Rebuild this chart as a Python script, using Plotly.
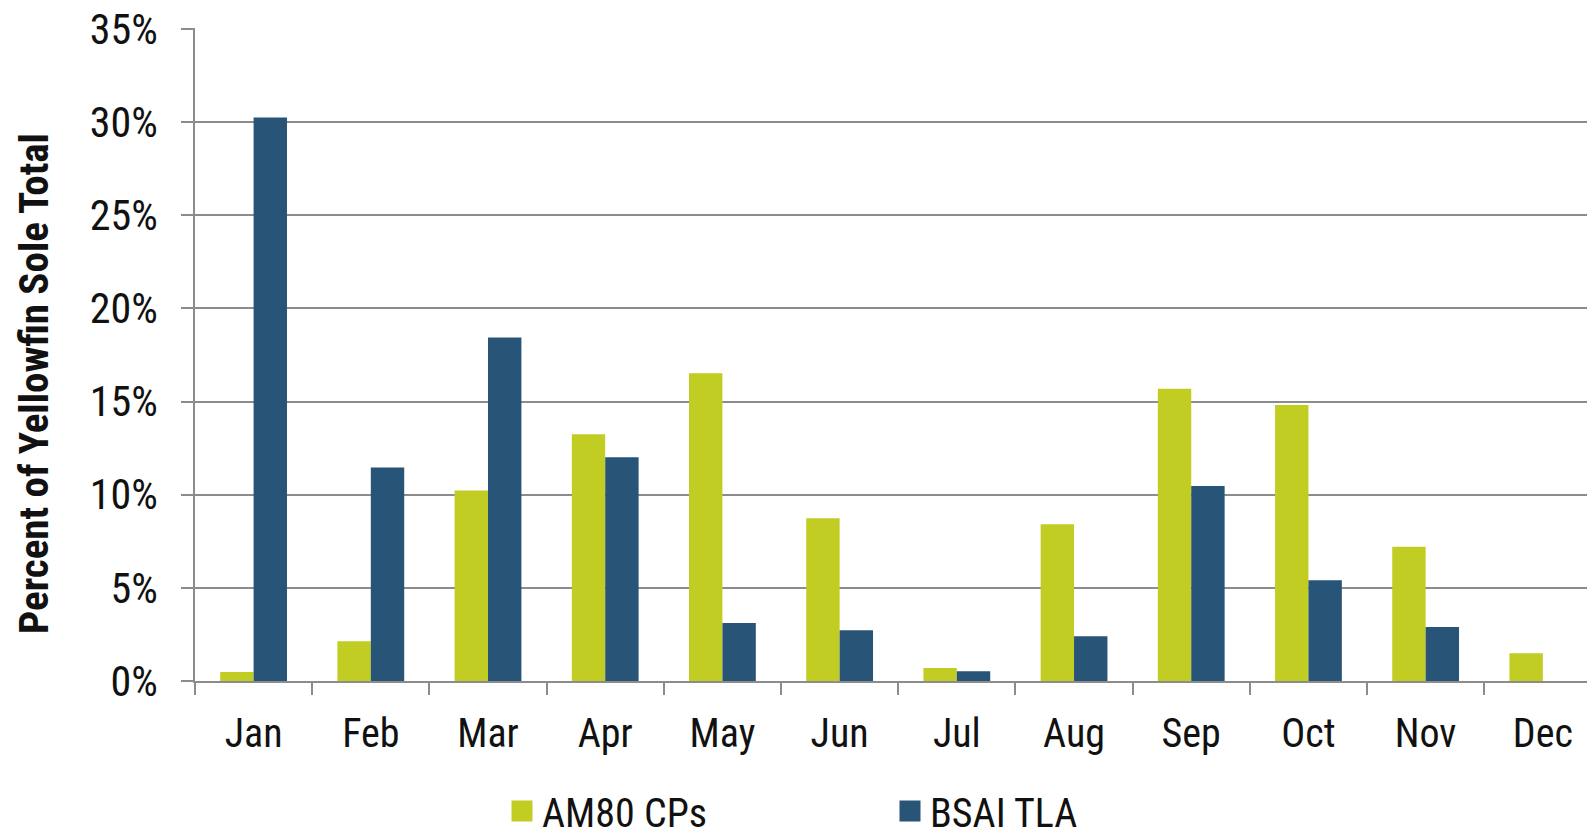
import plotly.graph_objects as go

months = ["Jan", "Feb", "Mar", "Apr", "May", "Jun", "Jul", "Aug", "Sep", "Oct", "Nov", "Dec"]
am80_cps = [0.48, 2.13, 10.22, 13.25, 16.52, 8.74, 0.70, 8.41, 15.68, 14.82, 7.20, 1.49]
bsai_tla = [30.24, 11.46, 18.44, 12.01, 3.11, 2.72, 0.52, 2.40, 10.47, 5.41, 2.90, 0.0]
y_ticks = [0, 5, 10, 15, 20, 25, 30, 35]
y_tick_labels = ["0%", "5%", "10%", "15%", "20%", "25%", "30%", "35%"]
y_title = "Percent of Yellowfin Sole Total"

GREEN = "#C2CD23"
BLUE = "#285577"
GRID = "#8C8C8C"
FONT = "Roboto Condensed, DejaVu Sans Condensed, sans-serif"
TXT = "#111111"

fig = go.Figure()
fig.add_trace(go.Bar(x=months, y=am80_cps, name="AM80 CPs", marker=dict(color=GREEN, line=dict(width=0)),
                     showlegend=False))
fig.add_trace(go.Bar(x=months, y=bsai_tla, name="BSAI TLA", marker=dict(color=BLUE, line=dict(width=0)),
                     showlegend=False))
fig.add_trace(go.Scatter(x=[None], y=[None], mode="markers", name="AM80 CPs",
                         marker=dict(symbol="square", size=16, color=GREEN, line=dict(color=GREEN, width=5))))
fig.add_trace(go.Scatter(x=[None], y=[None], mode="markers", name="BSAI TLA",
                         marker=dict(symbol="square", size=16, color=BLUE, line=dict(color=BLUE, width=5))))

# y-axis title, placed as a rotated annotation (offset below the axis centre as in the original)
fig.add_annotation(xref="paper", yref="paper", x=(26 - 187) / 1400, y=(673 - 376) / 653,
                   xanchor="center", yanchor="middle", textangle=-90, showarrow=False,
                   text="<b>" + y_title + "</b>", font=dict(family=FONT, size=41, color=TXT))

fig.update_layout(
    width=1587, height=824,
    margin=dict(l=187, r=0, t=20, b=151, autoexpand=False),
    paper_bgcolor="white", plot_bgcolor="white",
    font=dict(family=FONT, size=40, color=TXT),
    barmode="group", bargap=0.43, bargroupgap=0,
    showlegend=True,
    legend=dict(orientation="h", x=(494 - 187) / 1400, xanchor="left", y=-(803 - 673) / 653, yanchor="middle",
                font=dict(family=FONT, size=40, color=TXT), entrywidth=343, entrywidthmode="pixels",
                bgcolor="rgba(0,0,0,0)", itemclick=False),
    xaxis=dict(type="category", categoryorder="array", categoryarray=months,
               range=[-0.5, 11.445], tickson="boundaries", ticks="outside", ticklen=12, tickwidth=1.5,
               tickcolor=GRID, showline=True, linecolor=GRID, linewidth=1.5, showgrid=False,
               ticklabelstandoff=16,
               tickfont=dict(family=FONT, size=40, color=TXT)),
    yaxis=dict(range=[0, 35.05], tickmode="array", tickvals=y_ticks, ticktext=y_tick_labels,
               ticks="outside", ticklen=12, tickwidth=1.5, ticklabeloverflow="allow",
               tickcolor=GRID, showline=True, linecolor=GRID, linewidth=1.5, showgrid=True, gridcolor=GRID,
               gridwidth=1.5, zeroline=False, ticklabelstandoff=15,
               tickfont=dict(family=FONT, size=42, color=TXT)),
)

fig.write_html("out.html")
